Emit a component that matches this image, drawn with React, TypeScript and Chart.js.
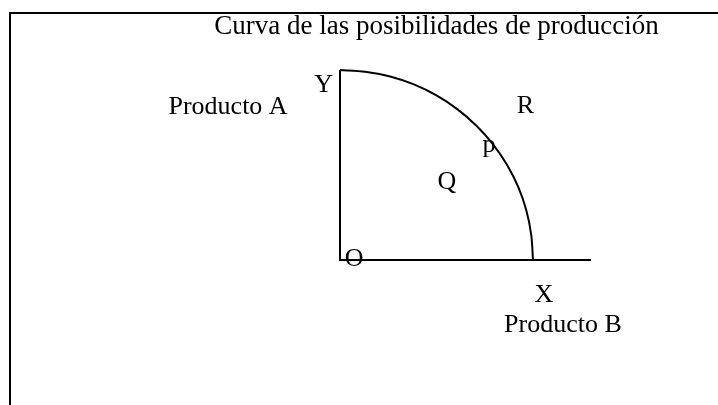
import React, { useEffect, useRef } from "react";
import { Chart, registerables } from "chart.js";

Chart.register(...registerables);

// Production possibilities frontier (quarter circle)
const curveX = [0, 1.3, 2.6, 3.83, 5, 6.09, 7.07, 7.93, 8.66, 9.24, 9.66, 9.91, 10];
const curveY = [10, 9.91, 9.66, 9.24, 8.66, 7.93, 7.07, 6.09, 5, 3.83, 2.59, 1.31, 0];

// Axes: vertical from Y down to O, horizontal from O to the right
const axisX = [0, 0, 13];
const axisY = [10, 0, 0];

// Text labels and their anchor points in data units
const labelTexts = ["Producto A", "Y", "R", "p", "Q", "O", "X", "Producto B"];
const labelX = [-5.8, -0.85, 9.61, 7.72, 5.54, 0.73, 10.57, 11.55];
const labelY = [7.68, 8.84, 7.74, 5.68, 3.73, -0.32, -2.21, -3.79];

const titleText = "Curva de las posibilidades de producción";

const FONT = '"Liberation Serif", "Times New Roman", serif';

const labelPlugin = {
  id: "textLabels",
  afterDatasetsDraw(chart: any) {
    const { ctx, scales } = chart;
    ctx.save();
    ctx.font = `26px ${FONT}`;
    ctx.fillStyle = "#000";
    ctx.textAlign = "center";
    ctx.textBaseline = "alphabetic";
    labelTexts.forEach((t, i) => {
      const px = scales.x.getPixelForValue(labelX[i]);
      const py = scales.y.getPixelForValue(labelY[i]);
      ctx.fillText(t, px, py);
    });
    ctx.restore();
  },
};

export default function App() {
  const ref = useRef<HTMLCanvasElement | null>(null);

  useEffect(() => {
    if (!ref.current) return;
    const chart = new Chart(ref.current, {
      type: "scatter",
      data: {
        datasets: [
          {
            label: "Ejes",
            data: axisX.map((x, i) => ({ x, y: axisY[i] })),
            showLine: true,
            borderColor: "#000",
            borderWidth: 2,
            pointRadius: 0,
            tension: 0,
            fill: false,
          },
          {
            label: "Curva",
            data: curveX.map((x, i) => ({ x, y: curveY[i] })),
            showLine: true,
            borderColor: "#000",
            borderWidth: 2,
            pointRadius: 0,
            tension: 0.3,
            fill: false,
          },
        ],
      },
      options: {
        animation: false,
        responsive: false,
        devicePixelRatio: 1,
        layout: { padding: { left: 204.9, right: 49.9, top: 0, bottom: 12 } },
        scales: {
          x: { type: "linear", min: -7, max: 17, display: false },
          y: { type: "linear", min: -7, max: 11.5, display: false },
        },
        plugins: {
          legend: { display: false },
          tooltip: { enabled: false },
          title: {
            display: true,
            text: titleText,
            fullSize: false,
            color: "#000",
            font: { family: FONT, size: 27, weight: "normal", lineHeight: 1.0 },
            padding: { top: 13.85, bottom: 0.65 },
          },
        },
      },
      plugins: [labelPlugin],
    });
    return () => chart.destroy();
  }, []);

  return (
    <div
      style={{
        position: "fixed",
        left: 0,
        top: 0,
        width: 718,
        height: 405,
        overflow: "hidden",
        background: "#fff",
      }}
    >
      <div
        style={{
          position: "absolute",
          left: 9,
          top: 12,
          width: 900,
          height: 600,
          borderLeft: "2px solid #000",
          borderTop: "2px solid #000",
        }}
      />
      <canvas
        ref={ref}
        width={718}
        height={405}
        style={{ position: "absolute", left: 0, top: 0, width: 718, height: 405 }}
      />
    </div>
  );
}
